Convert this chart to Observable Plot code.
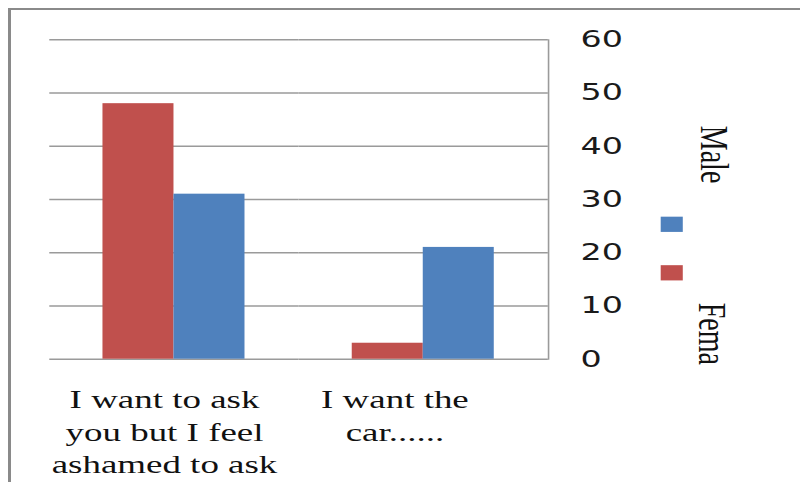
<!DOCTYPE html>
<html>
<head>
<meta charset="utf-8">
<script src="https://cdn.jsdelivr.net/npm/d3@7"></script>
<script src="https://cdn.jsdelivr.net/npm/@observablehq/plot@0.6"></script>
<style>
  html, body { margin: 0; padding: 0; background: #fff; overflow: hidden; }
  #wrap { position: relative; width: 800px; height: 482px; }
  #wrap svg { position: absolute; left: 0; top: 0; }
  #edge {
    position: absolute; left: 8px; top: 8px; width: 900px; height: 600px;
    border-top: 2.5px solid #8a8a8a; border-left: 3px solid #8a8a8a;
    box-sizing: border-box;
  }
</style>
</head>
<body>
<div id="wrap"><div id="edge"></div></div>
<script>
// Survey answers by gender
const categories = ["I want to ask you but I feel ashamed to ask", "I want the car......"];
const categoryLines = [
  ["I want to ask", "you but I feel", "ashamed to ask"],
  ["I want the", "car......"]
];
const series = ["Female", "Male"];
const legendLabels = ["Fema", "Male"];
const femaleValues = [48, 3];
const maleValues = [31, 21];
const yTicks = [0, 10, 20, 30, 40, 50, 60];
const seriesColors = ["#C0504D", "#4F81BD"];

const rows = categories.flatMap((c, i) => [
  {category: c, series: series[0], value: femaleValues[i]},
  {category: c, series: series[1], value: maleValues[i]}
]);

// The drawing is laid out on a narrow canvas and widened to 800px.
const W = 552, H = 482, OUT_W = 800;

const labelShift = [-7, -20];

const chart = Plot.plot({
  width: W,
  height: H,
  marginLeft: 33.3,
  marginRight: 173.8,
  marginTop: 39.3,
  marginBottom: 123.3,
  style: {background: "none", overflow: "visible"},
  fx: {domain: categories, padding: 0, axis: null},
  x: {domain: series, paddingInner: 0, paddingOuter: 0.742, axis: null},
  y: {domain: [0, 60], axis: null, label: null},
  color: {domain: series, range: seriesColors},
  marks: [
    Plot.gridY(yTicks, {stroke: "#9a9a9a", strokeOpacity: 1, strokeWidth: 1.6}),
    Plot.barY(rows, {fx: "category", x: "series", y: "value", fill: "series"}),
    Plot.frame({anchor: "right", facetAnchor: "right", stroke: "#9a9a9a", strokeWidth: 1.1}),
    Plot.axisY(yTicks, {
      anchor: "right", tickSize: 0, tickPadding: 22, label: null,
      fontSize: 23, fontFamily: "DejaVu Sans", fill: "#1a1a1a"
    }),
    ...categories.map((c, i) => Plot.text([c], {
      fx: d => d,
      text: () => categoryLines[i].join("\n"),
      frameAnchor: "bottom", lineAnchor: "top", dy: 25.5, dx: labelShift[i],
      lineHeight: 1.28, fontSize: 25.5, fontFamily: "Liberation Serif", fill: "#111"
    })),
    // legend: swatches and rotated names
    Plot.dot([series[1]], {
      facet: "super", frameAnchor: "top-right", dx: 85, dy: 184.5,
      symbol: "square", r: 8.6, fill: d => d
    }),
    Plot.dot([series[0]], {
      facet: "super", frameAnchor: "top-right", dx: 85, dy: 233,
      symbol: "square", r: 8.6, fill: d => d
    }),
    Plot.text([legendLabels[1]], {
      facet: "super", frameAnchor: "top-right", dx: 105.5, dy: 86,
      rotate: 90, textAnchor: "start", lineAnchor: "bottom",
      fontSize: 28, fontFamily: "Liberation Serif", fill: "#111"
    }),
    Plot.text([legendLabels[0]], {
      facet: "super", frameAnchor: "top-right", dx: 103.5, dy: 263,
      rotate: 90, textAnchor: "start", lineAnchor: "bottom",
      fontSize: 28, fontFamily: "Liberation Serif", fill: "#111"
    })
  ]
});

chart.setAttribute("viewBox", `0 0 ${W} ${H}`);
chart.setAttribute("preserveAspectRatio", "none");
chart.setAttribute("width", OUT_W);
chart.setAttribute("height", H);
chart.style.width = OUT_W + "px";
chart.style.height = H + "px";
chart.style.maxWidth = "none";
document.getElementById("wrap").appendChild(chart);
</script>
</body>
</html>
